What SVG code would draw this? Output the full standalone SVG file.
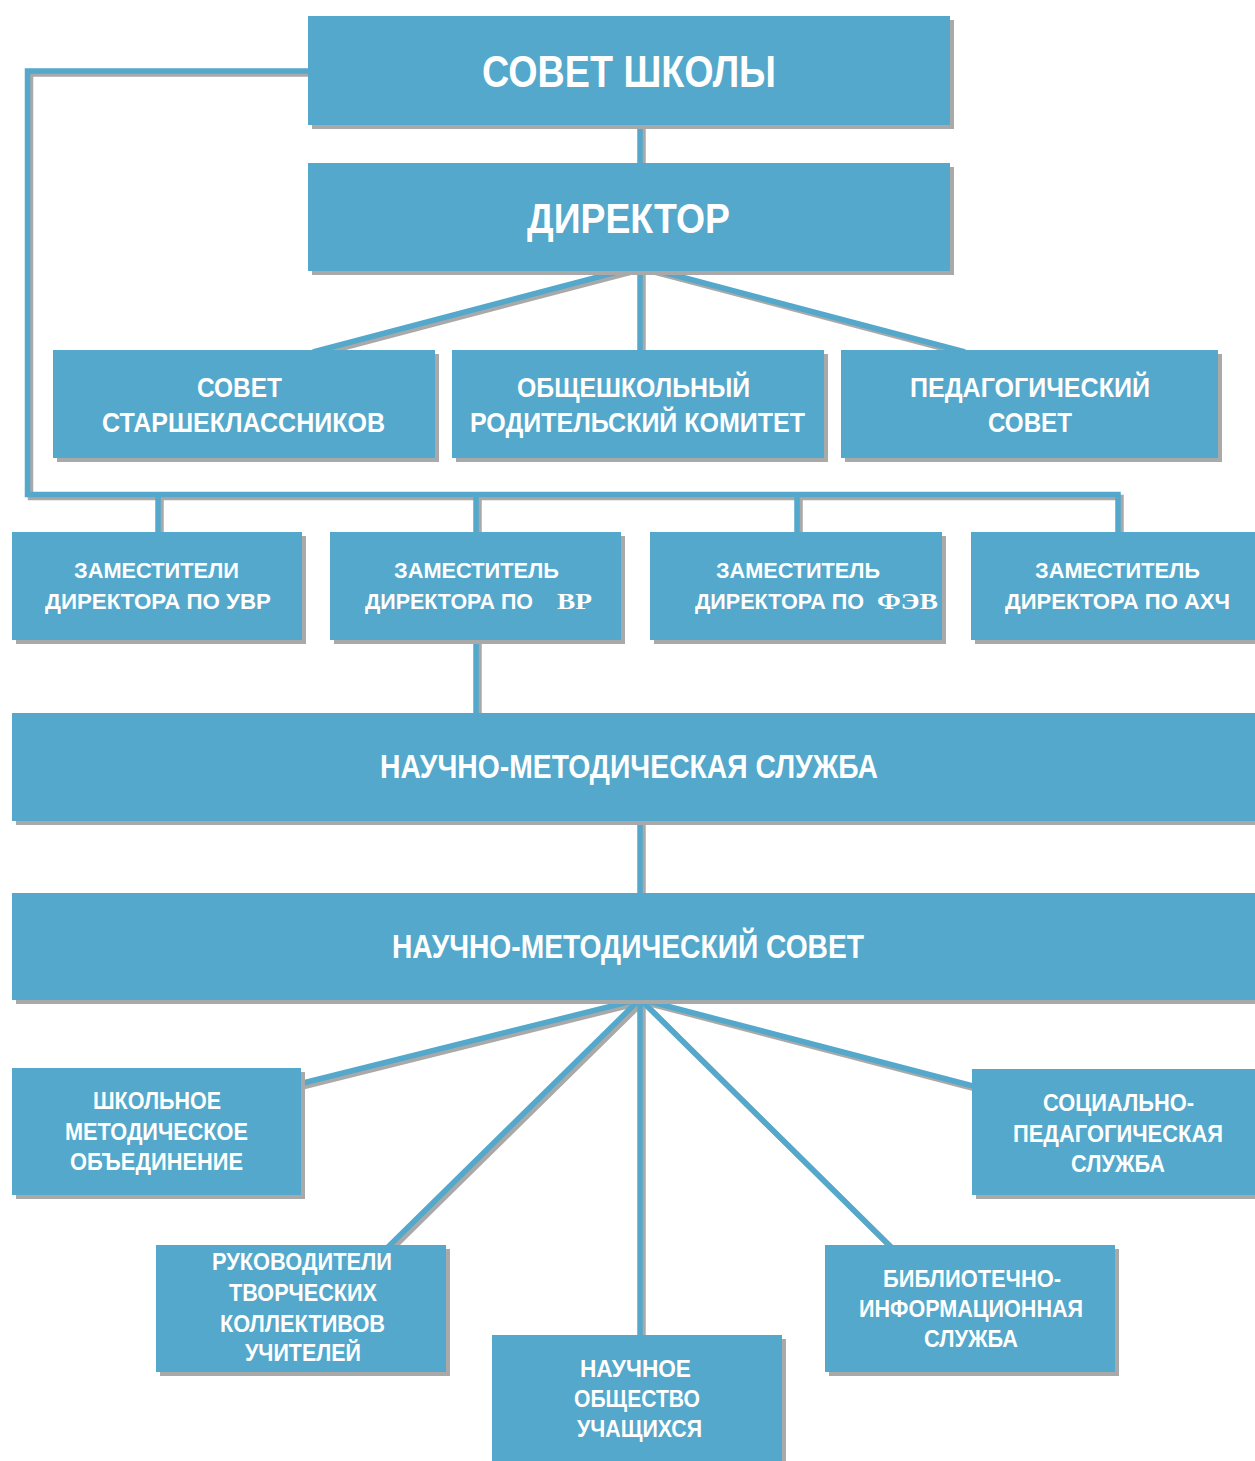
<svg xmlns="http://www.w3.org/2000/svg" xmlns:xlink="http://www.w3.org/1999/xlink" width="1255" height="1461" viewBox="0 0 1255 1461">
<defs>
<style>
.box{fill:#53A8CB}
.sh{fill:#A9A9A9}
.t{fill:#FFFFFF;font-family:"Liberation Sans","Arial",sans-serif;font-weight:bold;text-anchor:middle}
.ts{fill:#FFFFFF;font-family:"Liberation Serif","Times New Roman",serif;font-weight:bold}
.l{fill:#FFFFFF;font-family:"Liberation Sans","Arial",sans-serif;font-weight:bold}
.s44{font-size:44px}.s42{font-size:42px}.s28{font-size:28px}.s33{font-size:33px}.s22{font-size:22px}.s24{font-size:24px}
</style>
<g id="conn-paths" fill="none" stroke-linecap="butt" stroke-linejoin="miter">
<path d="M640 120 V168"/>
<path d="M312 71 H27.5 V494.5 H1118 V540"/>
<path d="M158 494.5 V540"/>
<path d="M476 494.5 V540"/>
<path d="M797 494.5 V540"/>
<path d="M640 266 L313 352"/>
<path d="M640 266 V352"/>
<path d="M640 266 L965 352"/>
<path d="M476 635 V716"/>
<path d="M640 815 V896"/>
<path d="M640 999 L299 1084"/>
<path d="M640 999 L387 1248"/>
<path d="M640 999 V1338"/>
<path d="M640 999 L892 1248"/>
<path d="M640 999 L973 1086"/>
</g>
</defs>
<rect width="1255" height="1461" fill="#FFFFFF"/>
<g id="connectors">
<use xlink:href="#conn-paths" href="#conn-paths" transform="translate(3,3)" stroke="#A9A9A9" stroke-width="5.5"/>
<use xlink:href="#conn-paths" href="#conn-paths" stroke="#53A8CB" stroke-width="5.5"/>
</g>
<g id="sovet-shkoly">
<rect class="sh" x="312" y="20" width="642" height="109"/>
<rect class="box" x="308" y="16" width="642" height="109"/>
<text class="t s44" x="629" y="87" textLength="294" lengthAdjust="spacingAndGlyphs">СОВЕТ ШКОЛЫ</text>
</g>
<g id="direktor">
<rect class="sh" x="312" y="167" width="642" height="108"/>
<rect class="box" x="308" y="163" width="642" height="108"/>
<text class="t s42" x="628.5" y="233" textLength="203" lengthAdjust="spacingAndGlyphs">ДИРЕКТОР</text>
</g>
<g id="sovet-starsheklassnikov">
<rect class="sh" x="57" y="354" width="382" height="108"/>
<rect class="box" x="53" y="350" width="382" height="108"/>
<text class="t s28" x="239.5" y="397" textLength="85" lengthAdjust="spacingAndGlyphs">СОВЕТ</text>
<text class="t s28" x="243.5" y="432" textLength="283" lengthAdjust="spacingAndGlyphs">СТАРШЕКЛАССНИКОВ</text>
</g>
<g id="roditelskiy-komitet">
<rect class="sh" x="456" y="354" width="372" height="108"/>
<rect class="box" x="452" y="350" width="372" height="108"/>
<text class="t s28" x="633.5" y="397" textLength="233" lengthAdjust="spacingAndGlyphs">ОБЩЕШКОЛЬНЫЙ</text>
<text class="t s28" x="637.5" y="432" textLength="335" lengthAdjust="spacingAndGlyphs">РОДИТЕЛЬСКИЙ КОМИТЕТ</text>
</g>
<g id="pedsovet">
<rect class="sh" x="845" y="354" width="377" height="108"/>
<rect class="box" x="841" y="350" width="377" height="108"/>
<text class="t s28" x="1030" y="397" textLength="240" lengthAdjust="spacingAndGlyphs">ПЕДАГОГИЧЕСКИЙ</text>
<text class="t s28" x="1030" y="432" textLength="84" lengthAdjust="spacingAndGlyphs">СОВЕТ</text>
</g>
<g id="zam-uvr">
<rect class="sh" x="16" y="536" width="290" height="108"/>
<rect class="box" x="12" y="532" width="290" height="108"/>
<text class="t s22" x="156.5" y="578" textLength="165" lengthAdjust="spacingAndGlyphs">ЗАМЕСТИТЕЛИ</text>
<text class="t s22" x="158" y="609" textLength="226" lengthAdjust="spacingAndGlyphs">ДИРЕКТОРА ПО УВР</text>
</g>
<g id="zam-vr">
<rect class="sh" x="334" y="536" width="291" height="108"/>
<rect class="box" x="330" y="532" width="291" height="108"/>
<text class="t s22" x="476.5" y="578" textLength="165" lengthAdjust="spacingAndGlyphs">ЗАМЕСТИТЕЛЬ</text>
<text class="l s22" x="365" y="609" textLength="168" lengthAdjust="spacingAndGlyphs">ДИРЕКТОРА ПО</text>
<text class="ts s24" x="557" y="609" textLength="35" lengthAdjust="spacingAndGlyphs">ВР</text>
</g>
<g id="zam-fev">
<rect class="sh" x="654" y="536" width="292" height="108"/>
<rect class="box" x="650" y="532" width="292" height="108"/>
<text class="t s22" x="798" y="578" textLength="164" lengthAdjust="spacingAndGlyphs">ЗАМЕСТИТЕЛЬ</text>
<text class="l s22" x="695" y="609" textLength="169" lengthAdjust="spacingAndGlyphs">ДИРЕКТОРА ПО</text>
<text class="ts s24" x="877" y="609" textLength="61" lengthAdjust="spacingAndGlyphs">ФЭВ</text>
</g>
<g id="zam-ahch">
<rect class="sh" x="975" y="536" width="290" height="108"/>
<rect class="box" x="971" y="532" width="290" height="108"/>
<text class="t s22" x="1117.5" y="578" textLength="165" lengthAdjust="spacingAndGlyphs">ЗАМЕСТИТЕЛЬ</text>
<text class="t s22" x="1117.5" y="609" textLength="225" lengthAdjust="spacingAndGlyphs">ДИРЕКТОРА ПО АХЧ</text>
</g>
<g id="nauchno-metod-sluzhba">
<rect class="sh" x="16" y="717" width="1250" height="108"/>
<rect class="box" x="12" y="713" width="1250" height="108"/>
<text class="t s33" x="629" y="778" textLength="498" lengthAdjust="spacingAndGlyphs">НАУЧНО-МЕТОДИЧЕСКАЯ СЛУЖБА</text>
</g>
<g id="nauchno-metod-sovet">
<rect class="sh" x="16" y="897" width="1250" height="107"/>
<rect class="box" x="12" y="893" width="1250" height="107"/>
<text class="t s33" x="628" y="958" textLength="472" lengthAdjust="spacingAndGlyphs">НАУЧНО-МЕТОДИЧЕСКИЙ СОВЕТ</text>
</g>
<g id="shmo">
<rect class="sh" x="16" y="1072" width="289" height="127"/>
<rect class="box" x="12" y="1068" width="289" height="127"/>
<text class="t s24" x="157" y="1109" textLength="128" lengthAdjust="spacingAndGlyphs">ШКОЛЬНОЕ</text>
<text class="t s24" x="156.5" y="1140" textLength="183" lengthAdjust="spacingAndGlyphs">МЕТОДИЧЕСКОЕ</text>
<text class="t s24" x="156.5" y="1170" textLength="173" lengthAdjust="spacingAndGlyphs">ОБЪЕДИНЕНИЕ</text>
</g>
<g id="socped-sluzhba">
<rect class="sh" x="976" y="1073" width="290" height="126"/>
<rect class="box" x="972" y="1069" width="290" height="126"/>
<text class="t s24" x="1118.5" y="1111" textLength="151" lengthAdjust="spacingAndGlyphs">СОЦИАЛЬНО-</text>
<text class="t s24" x="1118" y="1142" textLength="210" lengthAdjust="spacingAndGlyphs">ПЕДАГОГИЧЕСКАЯ</text>
<text class="t s24" x="1118" y="1172" textLength="94" lengthAdjust="spacingAndGlyphs">СЛУЖБА</text>
</g>
<g id="rukovoditeli">
<rect class="sh" x="160" y="1249" width="290" height="127"/>
<rect class="box" x="156" y="1245" width="290" height="127"/>
<text class="t s24" x="302" y="1270" textLength="180" lengthAdjust="spacingAndGlyphs">РУКОВОДИТЕЛИ</text>
<text class="t s24" x="303" y="1301" textLength="148" lengthAdjust="spacingAndGlyphs">ТВОРЧЕСКИХ</text>
<text class="t s24" x="302.5" y="1332" textLength="165" lengthAdjust="spacingAndGlyphs">КОЛЛЕКТИВОВ</text>
<text class="t s24" x="303" y="1361" textLength="116" lengthAdjust="spacingAndGlyphs">УЧИТЕЛЕЙ</text>
</g>
<g id="bibl-sluzhba">
<rect class="sh" x="829" y="1249" width="290" height="127"/>
<rect class="box" x="825" y="1245" width="290" height="127"/>
<text class="t s24" x="972" y="1287" textLength="178" lengthAdjust="spacingAndGlyphs">БИБЛИОТЕЧНО-</text>
<text class="t s24" x="971" y="1317" textLength="224" lengthAdjust="spacingAndGlyphs">ИНФОРМАЦИОННАЯ</text>
<text class="t s24" x="971" y="1347" textLength="94" lengthAdjust="spacingAndGlyphs">СЛУЖБА</text>
</g>
<g id="nauchnoe-obshchestvo">
<rect class="sh" x="496" y="1339" width="290" height="130"/>
<rect class="box" x="492" y="1335" width="290" height="130"/>
<text class="t s24" x="635.5" y="1377" textLength="111" lengthAdjust="spacingAndGlyphs">НАУЧНОЕ</text>
<text class="t s24" x="637" y="1407" textLength="126" lengthAdjust="spacingAndGlyphs">ОБЩЕСТВО</text>
<text class="t s24" x="639.5" y="1437" textLength="125" lengthAdjust="spacingAndGlyphs">УЧАЩИХСЯ</text>
</g>
</svg>
